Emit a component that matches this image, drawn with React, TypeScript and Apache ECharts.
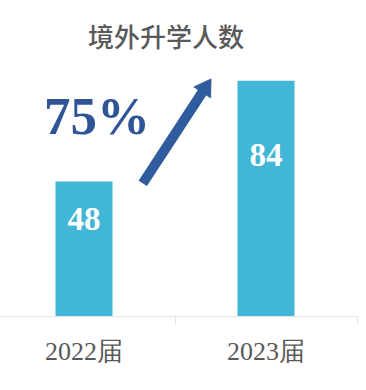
import React, { useEffect, useRef } from "react";
import * as echarts from "echarts";

const categories = ["2022届", "2023届"];
const values = [48, 84];
const labelDistances = [21, 58];
const titleText = "境外升学人数";
const growthText = "75%";

const SHIFT = 7;

export default function App() {
  const ref = useRef<HTMLDivElement>(null);
  useEffect(() => {
    if (!ref.current) return;
    const chart = echarts.init(ref.current, null, { renderer: "svg" });
    const tail = [143 + SHIFT, 183];
    const tip = [211 + SHIFT, 79];
    const dx = tip[0] - tail[0];
    const dy = tip[1] - tail[1];
    const len = Math.sqrt(dx * dx + dy * dy);
    const ux = dx / len, uy = dy / len;
    const nx = -uy, ny = ux;
    const headLen = 16, shaftHW = 4.6, headHW = 10;
    const hx = tip[0] - headLen * ux, hy = tip[1] - headLen * uy;
    const arrowPts = [
      [tail[0] + shaftHW * nx, tail[1] + shaftHW * ny],
      [hx + shaftHW * nx, hy + shaftHW * ny],
      [hx + headHW * nx, hy + headHW * ny],
      [tip[0], tip[1]],
      [hx - headHW * nx, hy - headHW * ny],
      [hx - shaftHW * nx, hy - shaftHW * ny],
      [tail[0] - shaftHW * nx, tail[1] - shaftHW * ny],
    ];
    chart.setOption({
      animation: false,
      grid: { left: 0, right: 9, top: 36, bottom: 74, containLabel: false },
      xAxis: {
        type: "category",
        data: categories,
        axisLine: { lineStyle: { color: "#e3e3e3", width: 1 } },
        axisTick: { show: true, length: 9, lineStyle: { color: "#e3e3e3" } },
        axisLabel: {
          margin: 22,
          fontSize: 26,
          color: "#595959",
          fontFamily: "Liberation Serif",
        },
      },
      yAxis: {
        type: "value",
        min: 0,
        max: 100,
        show: false,
        splitLine: { show: false },
      },
      series: [
        {
          type: "bar",
          barWidth: 57,
          data: values.map((v, i) => ({
            value: v,
            label: { distance: labelDistances[i] },
          })),
          itemStyle: { color: "#41B6D6" },
          label: {
            show: true,
            position: "insideTop",
            color: "#ffffff",
            fontSize: 33,
            fontWeight: "bold",
            fontFamily: "Liberation Serif",
          },
        },
      ],
      graphic: [
        {
          type: "text",
          x: 166 + SHIFT,
          y: 35,
          style: {
            text: titleText,
            fill: "#595959",
            fontSize: 26,
            fontWeight: 500,
            fontFamily: "Noto Sans CJK SC",
            align: "center",
            verticalAlign: "middle",
          },
        },
        {
          type: "text",
          x: 97 + SHIFT,
          y: 116,
          style: {
            text: growthText,
            fill: "#2F5597",
            fontSize: 53,
            fontWeight: "bold",
            fontFamily: "Liberation Serif",
            align: "center",
            verticalAlign: "middle",
          },
        },
        {
          type: "polygon",
          shape: { points: arrowPts },
          style: { fill: "#2E5C9E", stroke: "#28508a", lineWidth: 0.8 },
        },
      ],
    });
    return () => chart.dispose();
  }, []);
  return (
    <div style={{ position: "absolute", left: 0, top: 0, width: 366, height: 390, overflow: "hidden" }}>
      <div
        ref={ref}
        style={{ position: "absolute", left: -SHIFT, top: 0, width: 366 + SHIFT, height: 390 }}
      />
    </div>
  );
}
